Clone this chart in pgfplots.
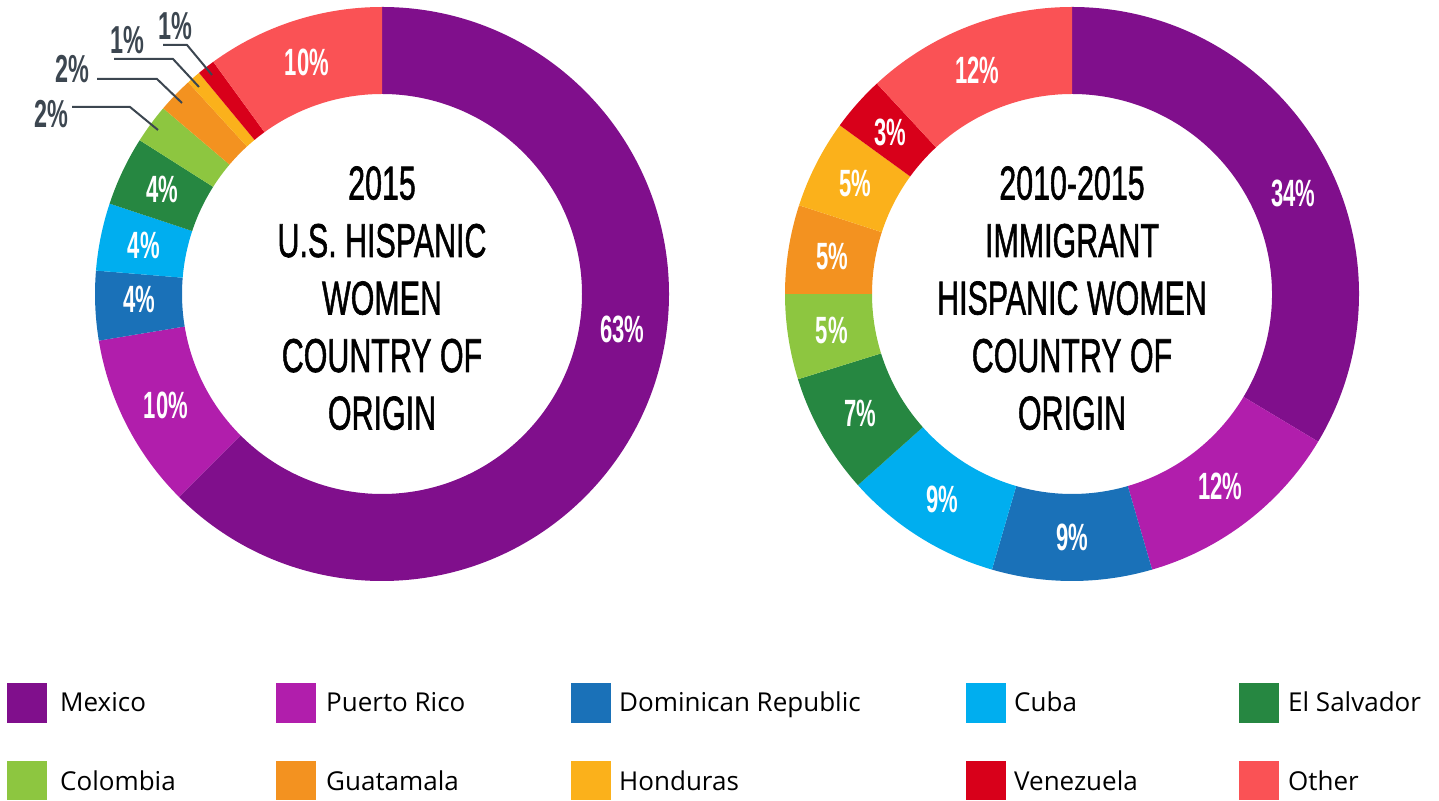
\documentclass[border=0pt]{standalone}
\usepackage{pgfplots}
\usepackage{pgfplotstable}
\pgfplotsset{compat=1.18}
\usepackage{fontspec}
\setmainfont{Open Sans}
\newfontfamily\condfont{Liberation Sans}
\newfontfamily\titlefont[FakeBold=1.5]{Liberation Sans}
\usetikzlibrary{calc}

\definecolor{cMex}{HTML}{800F8C}
\definecolor{cPR}{HTML}{B11EAC}
\definecolor{cDom}{HTML}{1A71B8}
\definecolor{cCuba}{HTML}{00AEEF}
\definecolor{cSal}{HTML}{268741}
\definecolor{cCol}{HTML}{8DC640}
\definecolor{cGua}{HTML}{F39220}
\definecolor{cHon}{HTML}{FBB11B}
\definecolor{cVen}{HTML}{D8001A}
\definecolor{cOth}{HTML}{FA5255}
\definecolor{labgray}{HTML}{3C4650}

% values in percent, clockwise from the top; lsh = label angle shift (deg)
\pgfplotstableread{
name value col lab lsh
Mexico 62.5 cMex 63 14
PuertoRico 9.9 cPR 10 0
Dominican 3.9 cDom 4 -1
Cuba 3.8 cCuba 4 0
ElSalvador 3.9 cSal 4 0
Colombia 2.2 cCol 2 0
Guatamala 2.0 cGua 2 0
Honduras 0.8 cHon 1 0
Venezuela 1.0 cVen 1 0
Other 10.0 cOth 10 0
}\leftdata

\pgfplotstableread{
name value col lab lsh
Mexico 33.6 cMex 34 -5
PuertoRico 11.9 cPR 12 0
Dominican 9.0 cDom 9 0
Cuba 8.9 cCuba 9 0
ElSalvador 6.8 cSal 7 0
Colombia 4.8 cCol 5 0
Guatamala 5.0 cGua 5 0
Honduras 5.0 cHon 5 0
Venezuela 3.1 cVen 3 0
Other 11.9 cOth 12 1.5
}\rightdata

\tikzset{
  numlab/.style={text=white, inner sep=0pt, font=\condfont\bfseries\fontsize{38}{40}\selectfont},
  outlab/.style={text=labgray, inner sep=0pt, font=\condfont\bfseries\fontsize{39}{40}\selectfont},
  leglab/.style={anchor=base west, inner sep=0pt, font=\fontsize{26}{30}\selectfont},
}

\newcommand\donut[3]{%
  \pgfplotstablegetrowsof{#1}%
  \pgfmathtruncatemacro\nrows{\pgfplotsretval-1}%
  \def\cum{0}%
  \pgfplotsforeachungrouped \i in {0,...,\nrows}{%
    \pgfplotstablegetelem{\i}{value}\of{#1}\let\val\pgfplotsretval
    \pgfplotstablegetelem{\i}{col}\of{#1}\let\col\pgfplotsretval
    \pgfplotstablegetelem{\i}{lab}\of{#1}\let\lab\pgfplotsretval
    \pgfplotstablegetelem{\i}{lsh}\of{#1}\let\lsh\pgfplotsretval
    \pgfmathsetmacro\aS{90-3.6*\cum}%
    \pgfmathsetmacro\aE{90-3.6*(\cum+\val)}%
    \pgfmathsetmacro\aM{(\aS+\aE)/2+\lsh}%
    \pgfmathsetmacro\cum{\cum+\val}%
    \edef\temp{\noexpand\fill[\col] ([shift={(\aS:287pt)}]axis cs:#2,#3)
      arc[start angle=\aS, end angle=\aE, radius=287pt]
      -- ([shift={(\aE:200pt)}]axis cs:#2,#3)
      arc[start angle=\aE, end angle=\aS, radius=200pt] -- cycle;}%
    \temp
    \ifdim\val pt>2.5pt
      \edef\temp{\noexpand\node[numlab] at ([shift={(\aM:243pt)}]axis cs:#2,#3)
        {\noexpand\scalebox{0.58}[1]{\lab\noexpand\%}};}%
      \temp
    \fi
  }%
}

\begin{document}
\begin{tikzpicture}
\begin{axis}[
  width=1439pt, height=800pt, scale only axis,
  xmin=0, xmax=1439, ymin=0, ymax=800,
  hide axis, clip=false,
]
\path (axis cs:0,0) rectangle (axis cs:1439,800);

\donut{\leftdata}{382}{506}
\donut{\rightdata}{1072}{506}

% outside labels of the small slices (left chart)
\draw[labgray, line width=2pt] (axis cs:72,693) -- (axis cs:130,693) -- (axis cs:158,670);
\draw[labgray, line width=2pt] (axis cs:97,721) -- (axis cs:157,721) -- (axis cs:182,697);
\draw[labgray, line width=2pt] (axis cs:114,741) -- (axis cs:173,741) -- (axis cs:199,713);
\draw[labgray, line width=2pt] (axis cs:163,755) -- (axis cs:187,755) -- (axis cs:212,725);
\node[outlab] at (axis cs:51,686) {\scalebox{0.6}[1]{2\%}};
\node[outlab] at (axis cs:72,731) {\scalebox{0.6}[1]{2\%}};
\node[outlab] at (axis cs:127,760) {\scalebox{0.6}[1]{1\%}};
\node[outlab] at (axis cs:175,774) {\scalebox{0.6}[1]{1\%}};

% titles in the holes
\node[inner sep=0pt] at (axis cs:382,497) {\scalebox{0.64}[1]{\titlefont\fontsize{47.5}{57.5}\selectfont
  \begin{tabular}{@{}c@{}}2015\\U.S. HISPANIC\\WOMEN\\COUNTRY OF\\ORIGIN\end{tabular}}};
\node[inner sep=0pt] at (axis cs:1072,497) {\scalebox{0.64}[1]{\titlefont\fontsize{47.5}{57.5}\selectfont
  \begin{tabular}{@{}c@{}}2010-2015\\IMMIGRANT\\HISPANIC WOMEN\\COUNTRY OF\\ORIGIN\end{tabular}}};

% legend
\fill[cMex] (axis cs:7,77) rectangle (axis cs:47,117);
\node[leglab] at (axis cs:60,88) {Mexico};
\fill[cPR] (axis cs:276,77) rectangle (axis cs:316,117);
\node[leglab] at (axis cs:326,88) {Puerto Rico};
\fill[cDom] (axis cs:571,77) rectangle (axis cs:611,117);
\node[leglab] at (axis cs:619,88) {Dominican Republic};
\fill[cCuba] (axis cs:966,77) rectangle (axis cs:1006,117);
\node[leglab] at (axis cs:1014,88) {Cuba};
\fill[cSal] (axis cs:1239,77) rectangle (axis cs:1279,117);
\node[leglab] at (axis cs:1288,88) {El Salvador};

\fill[cCol] (axis cs:7,0) rectangle (axis cs:47,39);
\node[leglab] at (axis cs:60,10) {Colombia};
\fill[cGua] (axis cs:276,0) rectangle (axis cs:316,39);
\node[leglab] at (axis cs:326,10) {Guatamala};
\fill[cHon] (axis cs:571,0) rectangle (axis cs:611,39);
\node[leglab] at (axis cs:619,10) {Honduras};
\fill[cVen] (axis cs:966,0) rectangle (axis cs:1006,39);
\node[leglab] at (axis cs:1014,10) {Venezuela};
\fill[cOth] (axis cs:1239,0) rectangle (axis cs:1279,39);
\node[leglab] at (axis cs:1288,10) {Other};
\end{axis}
\end{tikzpicture}
\end{document}
